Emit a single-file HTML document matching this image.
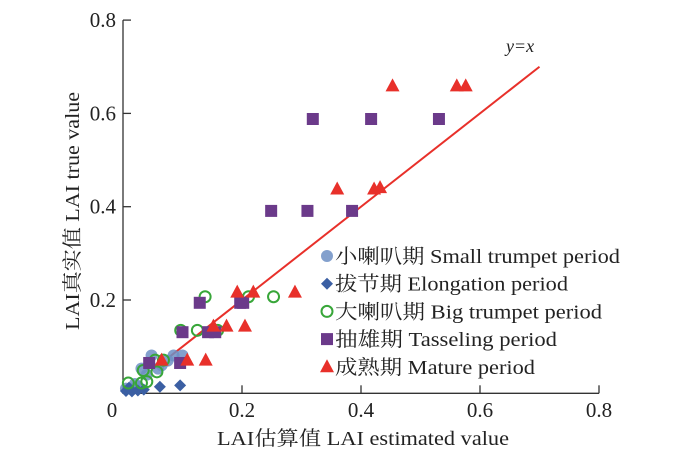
<!DOCTYPE html>
<html><head><meta charset="utf-8"><style>
body{margin:0;background:#fff}
svg{display:block;font-family:"Liberation Serif","Noto Serif CJK SC",serif}
</style></head><body>
<svg id="chart" width="700" height="452" viewBox="0 0 700 452"></svg>
<script>
const xTicks=[0,0.2,0.4,0.6,0.8];
const xTickLabels=["0","0.2","0.4","0.6","0.8"];
const yTicks=[0.2,0.4,0.6,0.8];
const yTickLabels=["0.2","0.4","0.6","0.8"];
const smallX=[0.005,0.015,0.025,0.031,0.048,0.059,0.085,0.1,0.04,0.02,0.065,0.075];
const smallY=[0.01,0.01,0.015,0.053,0.081,0.053,0.081,0.081,0.04,0.02,0.06,0.07];
const elongX=[0.005,0.015,0.025,0.035,0.062,0.096,0.01];
const elongY=[0.005,0.004,0.006,0.008,0.014,0.017,0.012];
const bigX=[0.138,0.211,0.253,0.097,0.125,0.159,0.068,0.054,0.034,0.057,0.009,0.031,0.04];
const bigY=[0.207,0.207,0.207,0.135,0.135,0.135,0.071,0.071,0.049,0.046,0.022,0.022,0.025];
const tassX=[0.319,0.417,0.531,0.249,0.31,0.385,0.129,0.202,0.197,0.1,0.143,0.155,0.044,0.096];
const tassY=[0.588,0.588,0.588,0.391,0.391,0.391,0.194,0.194,0.194,0.131,0.131,0.131,0.065,0.065];
const matX=[0.453,0.561,0.576,0.36,0.422,0.432,0.192,0.219,0.289,0.152,0.174,0.205,0.065,0.108,0.139];
const matY=[0.659,0.659,0.659,0.438,0.438,0.441,0.217,0.217,0.217,0.144,0.144,0.144,0.071,0.071,0.071];
const lineX=[0.075,0.7];
const lineY=[0.075,0.7];

const NS="http://www.w3.org/2000/svg";
const svg=document.getElementById('chart');
const sx=v=>123+v*595;
const sy=v=>393.3-v*466.5;
function mk(t,a,p){const e=document.createElementNS(NS,t);for(const k in a)e.setAttribute(k,a[k]);(p||svg).appendChild(e);return e;}

const ax=mk('path',{d:`M${sx(0)} ${sy(0.8)} V${sy(0)} H${sx(0.8)}`,stroke:'#333',fill:'none','stroke-width':1.3});


xTicks.forEach((v,i)=>{
  if(v>0){const t=mk('line',{x1:sx(v),x2:sx(v),y1:sy(0),y2:sy(0)-8,stroke:'#333','stroke-width':1.3});
  
  }
  const l=mk('text',{x:sx(v)-(v===0?11:0),y:417,'text-anchor':'middle','font-size':21,fill:'#222'});
  l.textContent=xTickLabels[i];
  
  
});
yTicks.forEach((v,i)=>{
  const t=mk('line',{x1:sx(0),x2:sx(0)+8,y1:sy(v),y2:sy(v),stroke:'#333','stroke-width':1.3});
  
  
  const l=mk('text',{x:116,y:sy(v)+7,'text-anchor':'end','font-size':21,fill:'#222'});
  l.textContent=yTickLabels[i];
  
  
});
const xt=mk('text',{x:217,y:445,'font-size':20,fill:'#222',textLength:292,lengthAdjust:'spacingAndGlyphs'});
xt.textContent='LAI估算值 LAI estimated value';


const yt=mk('text',{x:0,y:0,'font-size':20,fill:'#222',textLength:238,lengthAdjust:'spacingAndGlyphs',transform:'translate(79,330) rotate(-90)'});
yt.textContent='LAI真实值 LAI true value';



const ln=mk('line',{x1:sx(lineX[0]),y1:sy(lineY[0]),x2:sx(lineX[1]),y2:sy(lineY[1]),stroke:'#e8302a','stroke-width':2});


const lt=mk('text',{x:520,y:52,'text-anchor':'middle','font-size':18,'font-style':'italic',fill:'#222'});
lt.textContent='y=x';



function marker(kind,cx,cy,g){
  let e;
  if(kind==='circle') e=mk('circle',{cx,cy,r:6,fill:'#6d8fc4','fill-opacity':0.85},g);
  else if(kind==='diamond') e=mk('path',{d:`M${cx} ${cy-6}L${cx+6} ${cy}L${cx} ${cy+6}L${cx-6} ${cy}Z`,fill:'#3b5fa3'},g);
  else if(kind==='ring') e=mk('circle',{cx,cy,r:5.5,fill:'none',stroke:'#38a639','stroke-width':2},g);
  else if(kind==='square') e=mk('rect',{x:cx-6,y:cy-6,width:12,height:12,fill:'#6b3a8a'},g);
  else e=mk('path',{d:`M${cx} ${cy-7.5}L${cx+7} ${cy+5.5}L${cx-7} ${cy+5.5}Z`,fill:'#e8302a'},g);
  return e;
}
const series=[
 ['small-trumpet-series','circle',smallX,smallY],
 ['elongation-series','diamond',elongX,elongY],
 ['big-trumpet-series','ring',bigX,bigY],
 ['tasseling-series','square',tassX,tassY],
 ['mature-series','tri',matX,matY]];
series.forEach(s=>{
  const g=mk('g',{});
  
  
  s[2].forEach((x,i)=>{
    const m=marker(s[1],sx(x),sy(s[3][i]),g);
    
    
  });
});

const legendLabels=['小喇叭期 Small trumpet period','拔节期 Elongation period','大喇叭期 Big trumpet period','抽雄期 Tasseling period','成熟期 Mature period'];
const legendWidths=[285,233,267,222,200];
const lg=mk('g',{});


legendLabels.forEach((txt,i)=>{
  const y=256+i*27.7;
  const g=mk('g',{},lg);
  
  
  marker(series[i][1],327,y,g);
  const t=mk('text',{x:335,y:y+7,'font-size':20,fill:'#222',textLength:legendWidths[i],lengthAdjust:'spacingAndGlyphs'},g);
  t.textContent=txt;
});
</script>
</body></html>
